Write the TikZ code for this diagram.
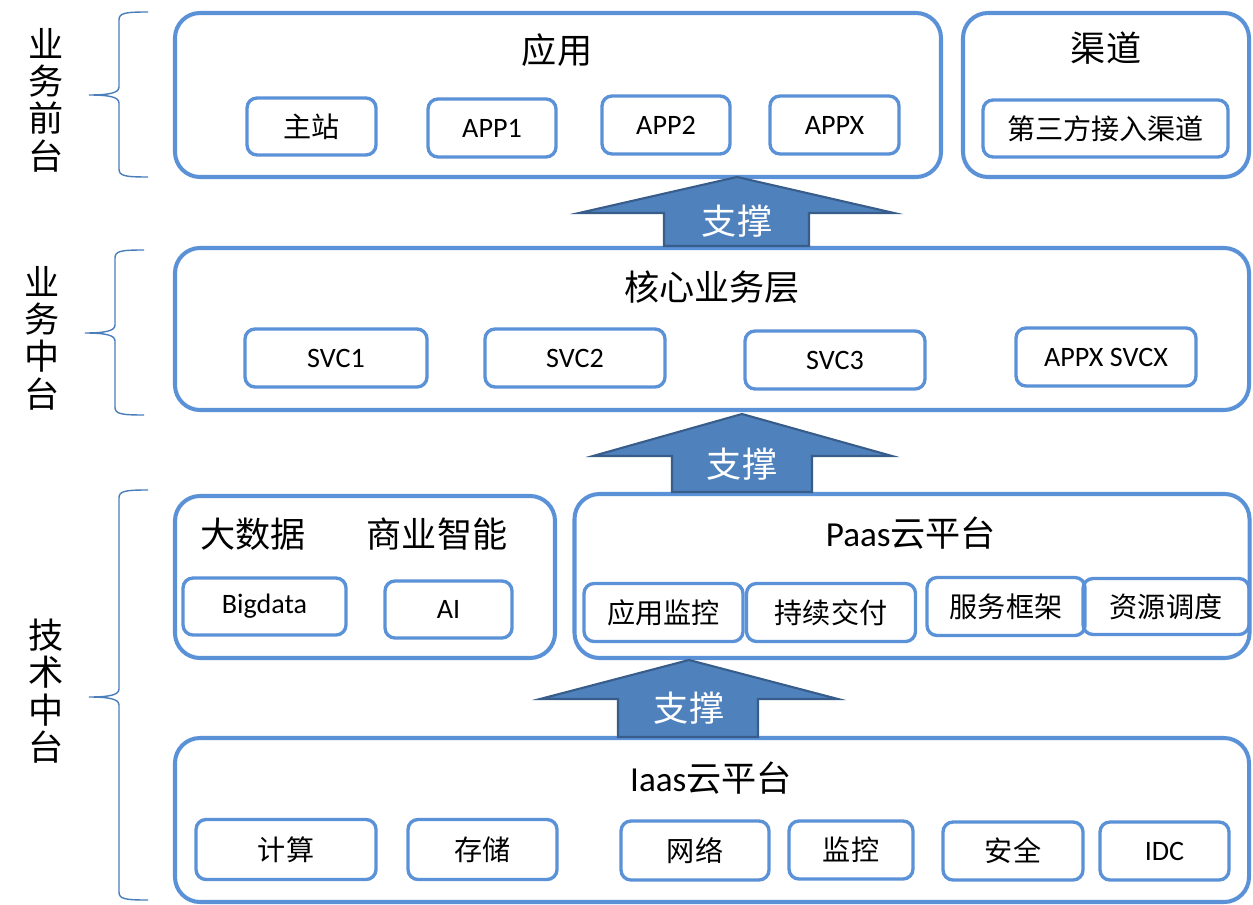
\documentclass[tikz,border=0pt]{standalone}
\usepackage{fontspec}
\setmainfont{Carlito}
\newfontfamily\cjk{Noto Sans CJK SC}

\definecolor{BoxBlue}{RGB}{90,145,215}
\definecolor{BraceBlue}{RGB}{74,126,187}
\definecolor{ArrowFill}{RGB}{79,129,189}
\definecolor{ArrowEdge}{RGB}{56,93,138}

\tikzset{
  wh/.style 2 args={minimum width=#1*0.02cm, minimum height=#2*0.02cm},
  layerbox/.style={draw=BoxBlue, line width=2.3pt, rounded corners=0.5cm, inner sep=0pt},
  itembox/.style={draw=BoxBlue, line width=1.9pt, rounded corners=0.2cm, inner sep=0pt,
    font=\fontsize{16}{18}\selectfont},
  title/.style={inner sep=0pt, font=\fontsize{20}{22}\selectfont},
  layerlabel/.style={inner sep=0pt, align=center, font=\fontsize{20}{21.3}\selectfont\cjk},
  uparrow/.style={fill=ArrowFill, draw=ArrowEdge, line width=1.2pt, line join=miter},
  arrowtext/.style={inner sep=0pt, text=white, font=\fontsize{20}{22}\selectfont\cjk},
  brace/.style={draw=BraceBlue, line width=0.8pt},
}

\begin{document}
\begin{tikzpicture}[x=0.02cm, y=-0.02cm]

  \useasboundingbox (0,0) rectangle (1253,905);

  % layer braces and labels
  \foreach \ytop/\ymid/\ybot/\xv/\ylbl/\lbl [count=\i] in
    {12/95/177/119/100/{业\\务\\前\\台},
     250/333/415/115/338/{业\\务\\中\\台},
     490/697/900/119/691/{技\\术\\中\\台}}
  {
    \draw[brace] (\xv+29,\ytop) .. controls (\xv+6,\ytop) and (\xv,\ytop+1) .. (\xv,\ytop+8)
      -- (\xv,\ymid-8) .. controls (\xv,\ymid-2) and (\xv-10,\ymid) .. (\xv-30,\ymid)
      .. controls (\xv-10,\ymid) and (\xv,\ymid+2) .. (\xv,\ymid+8)
      -- (\xv,\ybot-8) .. controls (\xv,\ybot-1) and (\xv+6,\ybot) .. (\xv+29,\ybot);
    \node[layerlabel] (layer\i) at (\xv-73,\ylbl) {\lbl};
  }

  % front layer
  \node[layerbox, wh={766}{164}] (app) at (558,95) {};
  \node[title] (apptitle) at (557,50) {\cjk 应用};
  \node[itembox, wh={129}{57}] (zhan) at (311.5,126.5) {\cjk 主站};
  \node[itembox, wh={128}{58}] (app1) at (492,128) {APP1};
  \node[itembox, wh={128}{58}] (app2) at (666,125) {APP2};
  \node[itembox, wh={129}{58}] (appx) at (834.5,125) {APPX};

  \node[layerbox, wh={286}{164}] (chan) at (1106,95) {};
  \node[title] (chantitle) at (1106,48) {\cjk 渠道};
  \node[itembox, wh={245}{57}] (third) at (1105.5,128.5) {\cjk 第三方接入渠道};

  % core layer
  \node[layerbox, wh={1074}{162}] (core) at (712,329) {};
  \node[title] (coretitle) at (712,287) {\cjk 核心业务层};
  \node[itembox, wh={182}{58}] (svc1) at (336,358) {SVC1};
  \node[itembox, wh={180}{58}] (svc2) at (575,358) {SVC2};
  \node[itembox, wh={180}{58}] (svc3) at (835,360) {SVC3};
  \node[itembox, wh={180}{58}] (svcx) at (1106,357) {APPX SVCX};

  % tech layer
  \node[layerbox, wh={380}{162}] (bigd) at (365,577) {};
  \node[title] (bigdtitle) at (253,534) {\cjk 大数据};
  \node[title] (bititle) at (437,534) {\cjk 商业智能};
  \node[itembox, wh={163}{57}] (bigdata) at (264.5,606.5) {Bigdata};
  \node[itembox, wh={127}{57}] (ai) at (448.5,609.5) {AI};

  \node[layerbox, wh={675}{164}] (paas) at (912,576) {};
  \node[title] (paastitle) at (911,533) {Paas\cjk 云平台};
  \node[itembox, wh={159}{58}] (appmon) at (663.5,612.5) {\cjk 应用监控};
  \node[itembox, wh={169}{58}] (deliver) at (831,612.5) {\cjk 持续交付};
  \node[itembox, wh={158}{58}] (frame) at (1006,606.5) {\cjk 服务框架};
  \node[itembox, wh={166}{56}] (sched) at (1166,606.5) {\cjk 资源调度};

  \node[layerbox, wh={1074}{164}] (iaas) at (712,820) {};
  \node[title] (iaastitle) at (711,778) {Iaas\cjk 云平台};
  \node[itembox, wh={180}{60}] (calc) at (286,849.5) {\cjk 计算};
  \node[itembox, wh={149}{60}] (store) at (482.5,849.5) {\cjk 存储};
  \node[itembox, wh={148}{59}] (net) at (695,850.5) {\cjk 网络};
  \node[itembox, wh={124}{58}] (mon) at (851,850) {\cjk 监控};
  \node[itembox, wh={140}{58}] (safe) at (1013,851) {\cjk 安全};
  \node[itembox, wh={129}{58}] (idc) at (1164.5,851) {IDC};

  % support arrows
  \draw[uparrow] (737,177) -- (894,213) -- (809,213) -- (809,246)
    -- (664,246) -- (664,213) -- (579,213) -- cycle;
  \node[arrowtext] (sup1) at (737,221) {支撑};

  \draw[uparrow] (742,414) -- (892,456) -- (812,456) -- (812,492)
    -- (672,492) -- (672,456) -- (593,456) -- cycle;
  \node[arrowtext] (sup2) at (742,464) {支撑};

  \draw[uparrow] (689,660) -- (838,699) -- (758,699) -- (758,737)
    -- (618,737) -- (618,699) -- (540,699) -- cycle;
  \node[arrowtext] (sup3) at (689,708) {支撑};

\end{tikzpicture}
\end{document}
